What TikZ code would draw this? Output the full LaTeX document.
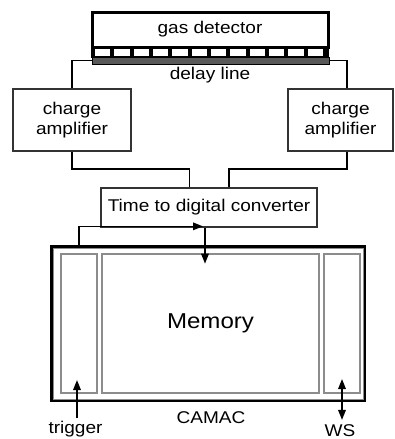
\documentclass[tikz,border=0pt]{standalone}
\usepackage{fontspec}
\setmainfont{Liberation Sans}[FakeStretch=1.12]
\usepackage{tikz}
\usetikzlibrary{arrows,arrows.meta,positioning}

\begin{document}
\begin{tikzpicture}[x=1pt, y=-1pt, >={Triangle[length=10pt,width=7.5pt]},
                    every node/.style={font=\fontsize{17}{20}\selectfont},
                    box node/.style={rectangle,draw=black!80,line width=1.4pt,align=center,inner sep=0pt},
                    slot node/.style={rectangle,draw=black!45,line width=1.3pt,inner sep=0pt,minimum height=139},
                    wire/.style={line width=1.6pt}]
  \useasboundingbox (0,0) rectangle (395,439);
  % detector and delay line
  \node[box node,draw=black,line width=3pt,minimum width=236,minimum height=35] (det) at (210,29.5) {gas detector};
  \node[rectangle,draw,line width=1.5pt,minimum width=236,minimum height=10,inner sep=0pt] (strip) at (210,52) {};
  \foreach \i in {0,...,12}
    \fill (93+\i*19.33-2,47) rectangle ++(4,10);
  \node[rectangle,fill=black!65,draw=black,line width=0.6pt,minimum width=237,minimum height=7,inner sep=0pt] (dl) at (210.5,60.5) {};
  \node (dltext) at (210,75) {delay line};
  % amplifiers and TDC
  \node[box node,minimum width=118,minimum height=62] (ampL) at (72,120) {charge\\amplifier};
  \node[box node,minimum width=105,minimum height=62] (ampR) at (340.5,120) {charge\\amplifier};
  \node[box node,minimum width=216,minimum height=39] (tdc) at (209,207.5) {Time to digital converter};
  % CAMAC crate
  \node[rectangle,draw=black,line width=3pt,minimum width=313,minimum height=154] (camac) at (208,323.5) {};
  \draw[black!45,line width=1pt] ([shift={(3,3)}]camac.north west) rectangle ([shift={(-3,-3)}]camac.south east);
  \node[slot node,minimum width=36] (trig) at (79,323.5) {};
  \node[slot node,minimum width=217,font=\fontsize{21.5}{24}\selectfont] (mem) at (210.5,323.5) {Memory};
  \node[slot node,minimum width=36] (ws) at (342,323.5) {};
  \node (camactext) at (211,418) {CAMAC};
  \node (trigtext) at (75.5,429) {trigger};
  \node (wstext) at (340,430.5) {WS};
  \coordinate (trigin) at (77,380);
  \coordinate (wsin) at (342,379);
  % wiring
  \draw[wire] (dl.west) -| (ampL.north);
  \draw[wire] (dl.east) -| ([xshift=6.5]ampR.north);
  \draw[wire] (ampL.south) -- ++(0,17) -| ([xshift=-19.5]tdc.north);
  \draw[wire] ([xshift=6.5]ampR.south) -- ++(0,17) -| ([xshift=20]tdc.north);
  \draw[wire,->] ([xshift=-4]tdc.south) -- ++(0,36);
  \draw[wire,->] ([yshift=5]trig.north) |- ++(124,-22);
  \draw[wire,->] ([xshift=1.5]trigtext.north) -- (trigin);
  \draw[wire,<->] (wsin) -- ([xshift=2,yshift=1]wstext.north);
\end{tikzpicture}
\end{document}
